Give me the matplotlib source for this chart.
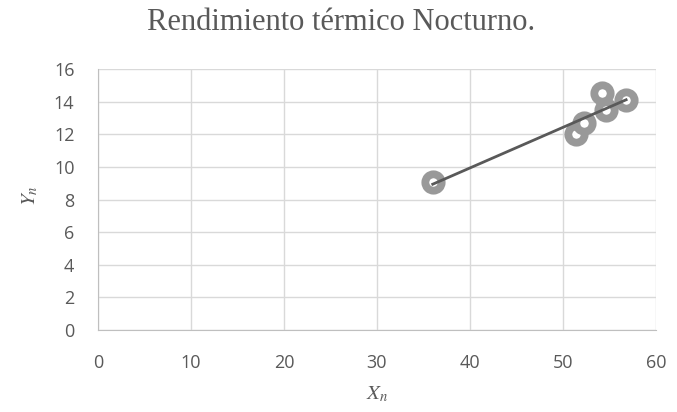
import matplotlib
matplotlib.use("Agg")
import matplotlib.pyplot as plt
import numpy as np

# night-time thermal efficiency samples
x_n = [36.0, 51.4, 52.3, 54.2, 54.6, 56.8]
y_n = [9.08, 12.0, 12.7, 14.5, 13.5, 14.07]

x_ticks = [0, 10, 20, 30, 40, 50, 60]
y_ticks = [0, 2, 4, 6, 8, 10, 12, 14, 16]

GRAY_TEXT = "#595959"
GRID = "#d9d9d9"
AXIS = "#bfbfbf"

plt.rcParams['mathtext.fontset'] = 'stix'

fig = plt.figure(figsize=(6.77, 4.12), dpi=100)
ax = fig.add_axes([0.1448, 0.199, 0.824, 0.6335])

ax.plot(x_n, y_n, 'o', ms=11.8, mew=5.6, mfc='white', mec='#999999', zorder=3)

# linear trend line over the sample range
slope, icpt = np.polyfit(x_n, y_n, 1)
xs = np.array([min(x_n), max(x_n)])
ax.plot(xs, slope * xs + icpt, color=GRAY_TEXT, lw=2, zorder=4)

ax.set_xlim(0, 60)
ax.set_ylim(0, 16)
ax.set_xticks(x_ticks)
ax.set_yticks(y_ticks)
ax.grid(True, color=GRID, lw=1)
ax.set_axisbelow(True)
ax.tick_params(length=0, labelsize=13, labelcolor=GRAY_TEXT)
ax.tick_params(axis='x', pad=17)
ax.tick_params(axis='y', pad=17)
for lbl in ax.get_xticklabels() + ax.get_yticklabels():
    lbl.set_fontfamily('Open Sans')
for side in ['top', 'right']:
    ax.spines[side].set_visible(False)
for side in ['left', 'bottom']:
    ax.spines[side].set_color(AXIS)

ax.set_xlabel(r'$X_n$', fontsize=15, color=GRAY_TEXT)
ax.set_ylabel(r'$Y_n$', fontsize=15, color=GRAY_TEXT)
ax.xaxis.set_label_coords(0.5, -0.245)
ax.xaxis.label.set_va('center')
ax.yaxis.set_label_coords(-0.122, 0.513)
ax.yaxis.label.set_va('center')

fig.text(341 / 677, 1 - 22 / 412, 'Rendimiento térmico Nocturno.', ha='center', va='center',
         fontsize=22, color=GRAY_TEXT, family='Liberation Serif')

fig.savefig('out.png', dpi=100, facecolor='white')
